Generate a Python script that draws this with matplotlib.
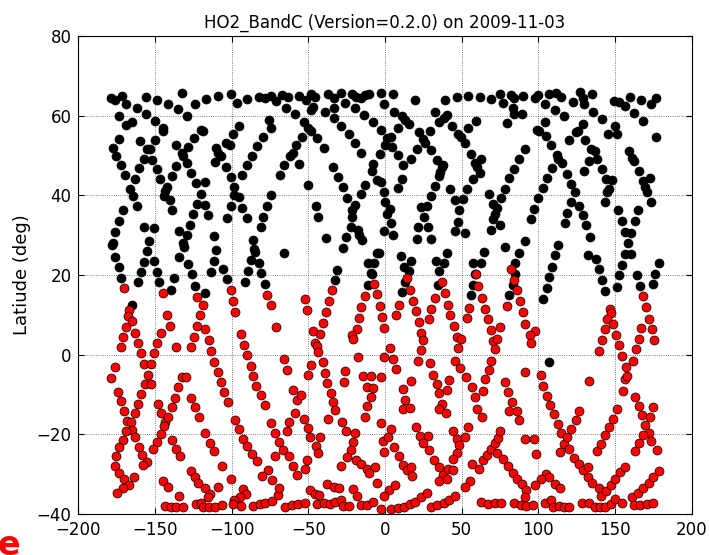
import matplotlib
matplotlib.use("Agg")
import matplotlib.pyplot as plt
import numpy as np

TITLE = "HO2_BandC (Version=0.2.0) on 2009-11-03"

# tangent point positions (lon, lat) -- northern part, drawn black
black_north_west = [
    (-179.0, 64.5), (-176.0, 63.9), (-171.6, 65.0), (-168.6, 62.9), (-161.6, 62.0), (-156.0, 64.7),
    (-148.6, 63.9), (-141.6, 62.9), (-135.1, 61.6), (-132.5, 65.6), (-129.4, 60.0), (-123.8, 62.9),
    (-116.6, 64.1), (-109.0, 65.0), (-173.8, 59.9), (-156.0, 60.5), (-150.3, 58.7), (-165.1, 58.5),
    (-168.6, 57.7), (-145.1, 56.9), (-144.7, 56.2), (-119.9, 56.5), (-118.8, 56.2), (-173.8, 54.1),
    (-159.9, 53.6), (-149.9, 53.8), (-124.6, 54.3), (-136.4, 52.7), (-128.6, 52.2), (-177.7, 51.8),
    (-155.5, 51.5), (-153.3, 51.7), (-132.5, 50.5), (-131.6, 49.8), (-175.5, 49.9), (-157.3, 49.2),
    (-152.0, 48.9), (-129.0, 48.1), (-172.5, 47.5), (-160.3, 46.8), (-149.0, 46.6), (-136.0, 47.3),
    (-110.3, 51.8), (-109.0, 50.7), (-106.8, 49.8), (-110.7, 48.3), (-103.8, 53.0), (-103.8, 47.0),
    (-169.4, 45.0), (-163.3, 44.0), (-139.0, 44.8), (-126.4, 45.6), (-123.3, 43.1), (-117.3, 43.4),
    (-146.8, 44.1), (-166.4, 41.6), (-142.0, 42.1), (-143.3, 41.0), (-120.3, 40.4), (-164.2, 39.9),
    (-144.2, 39.8), (-140.3, 38.8), (-122.5, 37.9), (-117.7, 37.6), (-162.0, 37.3), (-138.6, 36.3),
    (-125.1, 35.3), (-115.5, 35.0), (-102.9, 34.4), (-171.2, 36.4),
    (-100.7, 65.4), (-96.7, 63.2), (-89.8, 64.1), (-82.4, 64.7), (-78.1, 64.3), (-74.6, 64.9),
    (-71.1, 63.7), (-67.2, 65.1), (-63.3, 64.7), (-64.6, 62.0), (-56.3, 65.0), (-51.5, 63.9),
    (-48.5, 65.4), (-45.4, 64.7), (-46.7, 62.2), (-48.1, 61.5), (-37.2, 65.4), (-33.3, 64.3),
    (-28.9, 65.7), (-26.3, 63.2), (-21.5, 65.5), (-18.9, 64.7), (-15.9, 64.5), (-13.3, 65.1),
    (-10.2, 65.4), (-58.9, 60.4), (-52.8, 58.5), (-39.4, 61.0), (-33.3, 62.0), (-33.3, 59.3),
    (-19.4, 62.0), (-13.7, 60.2), (-8.1, 58.5), (-75.4, 59.0), (-95.0, 57.3), (-74.6, 56.8),
    (-50.2, 56.8), (-48.5, 56.2), (-99.4, 55.3), (-28.5, 57.3), (-23.7, 55.3), (-79.4, 54.7),
    (-54.1, 54.7), (-44.1, 54.3), (-101.1, 52.5), (-83.3, 52.3), (-39.8, 51.8), (-19.4, 53.2),
    (-15.4, 50.7), (-58.0, 52.5), (-86.7, 49.8), (-60.2, 50.5), (-62.0, 49.8), (-89.8, 47.5),
    (-65.9, 47.5), (-55.9, 47.8), (-33.7, 47.0), (-7.6, 47.8), (-8.5, 46.0), (-93.3, 45.0),
    (-68.5, 45.1), (-30.7, 44.6), (-5.0, 43.8), (-100.7, 44.5), (-98.5, 42.0), (-50.2, 42.6),
    (-27.6, 42.1), (-13.3, 42.6), (-98.5, 40.0), (-95.4, 39.6), (-74.6, 40.0), (-15.4, 40.3),
    (-24.6, 39.3), (-100.7, 37.3), (-93.3, 36.8), (-76.7, 37.3), (-45.0, 37.3), (-19.8, 37.6),
    (-21.5, 36.3), (-43.7, 34.6), (-21.5, 34.6), (-90.2, 34.3), (-79.4, 34.6),
]

black_north_east = [
    (-2.9, 65.6), (5.0, 65.4), (19.7, 63.9), (38.9, 63.9), (46.7, 64.7), (54.1, 64.9),
    (61.9, 64.7), (69.3, 64.1), (75.0, 65.4), (76.7, 63.2), (81.9, 65.2), (84.1, 64.5),
    (89.7, 64.9), (-0.7, 62.9), (5.8, 61.0), (83.2, 62.0), (84.1, 60.4), (89.3, 60.5),
    (79.3, 58.2), (11.1, 60.0), (13.2, 59.0), (15.8, 58.0), (32.4, 61.0), (35.0, 58.4),
    (38.4, 59.5), (40.6, 60.2), (43.7, 57.3), (59.3, 58.7), (-2.9, 56.5), (8.4, 56.8),
    (21.9, 55.9), (29.3, 56.2), (47.6, 55.3), (49.3, 54.7), (52.4, 53.0), (54.1, 56.8),
    (3.7, 54.7), (1.1, 54.5), (0.2, 52.5), (4.5, 52.2), (25.0, 54.0), (26.3, 53.0),
    (21.1, 51.7), (29.7, 51.3), (91.1, 51.7), (-3.3, 50.3), (8.4, 50.1), (17.1, 49.2),
    (33.7, 48.8), (38.0, 47.6), (37.1, 47.0), (35.8, 45.9), (35.0, 44.8), (55.8, 50.3),
    (62.8, 49.2), (58.4, 48.0), (60.2, 47.0), (61.9, 45.5), (87.6, 49.2), (11.5, 47.5),
    (84.1, 46.6), (-2.9, 43.4), (11.1, 44.2), (57.1, 44.1), (81.1, 44.3), (8.4, 41.7),
    (32.8, 42.3), (42.4, 41.5), (53.7, 41.6), (78.4, 41.6), (-0.7, 40.8), (30.2, 39.8),
    (68.0, 40.3), (75.8, 39.3), (-0.3, 38.3), (3.2, 36.6), (1.5, 35.3), (23.7, 37.1),
    (27.6, 37.3), (25.4, 34.6), (45.4, 38.8), (51.1, 39.0), (48.4, 36.4), (70.6, 37.8),
    (73.2, 36.8), (71.9, 35.4), (70.6, 34.1),
    (97.6, 64.3), (99.8, 65.1), (104.6, 63.0), (106.8, 65.4), (111.6, 65.6), (114.6, 64.7),
    (122.9, 63.5), (127.2, 65.9), (129.0, 64.5), (135.0, 65.4), (129.8, 63.0), (135.9, 61.0),
    (141.6, 59.2), (149.4, 63.7), (152.4, 63.5), (156.8, 62.4), (159.8, 64.7), (167.2, 63.9),
    (173.3, 63.0), (176.8, 64.3), (162.4, 60.7), (168.1, 58.7), (111.1, 61.5), (116.8, 59.9),
    (104.2, 58.4), (129.4, 58.0), (99.4, 56.5), (100.7, 56.2), (149.8, 57.5), (145.5, 55.5),
    (151.1, 55.3), (125.9, 56.2), (124.6, 56.0), (119.8, 53.8), (130.7, 53.8), (176.8, 54.7),
    (105.0, 54.8), (108.1, 52.7), (134.2, 51.5), (137.2, 51.2), (159.0, 51.0), (161.1, 49.3),
    (162.4, 48.5), (112.0, 50.2), (112.9, 49.2), (132.9, 48.5), (138.5, 49.0), (115.5, 48.0),
    (109.0, 46.8), (118.5, 45.3), (129.8, 46.1), (141.6, 46.6), (165.5, 46.1), (105.9, 44.3),
    (121.6, 42.8), (144.2, 44.1), (148.1, 43.8), (168.1, 43.6), (172.9, 44.3), (102.9, 41.8),
    (124.2, 40.9), (146.3, 41.6), (145.0, 40.8), (169.8, 42.0), (170.7, 40.8), (99.8, 39.3),
    (121.1, 38.3), (126.8, 37.4), (143.3, 38.3), (173.3, 38.3), (152.0, 36.3), (165.0, 36.3),
    (97.2, 36.6), (118.9, 35.6), (129.4, 35.1), (95.5, 34.1),
]

black_mid = [
    (-173.3, 33.5), (-157.3, 32.0), (-150.7, 31.8), (-176.0, 30.8), (-153.8, 28.6), (-177.7, 28.1),
    (-178.1, 27.4), (-155.5, 25.9), (-176.0, 24.6), (-157.3, 23.3), (-150.7, 23.6), (-173.8, 21.9),
    (-159.4, 20.7), (-149.0, 20.8), (-172.0, 19.2), (-161.2, 18.1), (-147.3, 18.2), (-134.6, 30.9),
    (-129.4, 30.1), (-127.3, 32.6), (-131.6, 27.9), (-131.2, 27.1), (-134.2, 24.6), (-128.6, 22.8),
    (-126.0, 20.1), (-124.2, 17.2), (-137.7, 19.2), (-139.4, 16.2), (-117.3, 15.4), (-111.2, 29.8),
    (-109.9, 26.3), (-111.6, 23.6), (-113.3, 20.7), (-105.5, 21.6), (-102.9, 18.9), (-165.1, 12.4),
    (-81.1, 32.0), (-86.3, 28.8), (-85.4, 26.4), (-84.6, 25.8), (-87.6, 23.8), (-82.4, 23.1),
    (-89.4, 20.9), (-80.7, 20.4), (-91.1, 18.2), (-78.5, 17.7), (-65.9, 25.6), (-38.5, 29.3),
    (-25.4, 29.6), (-22.4, 32.1), (-17.6, 31.3), (-16.7, 30.1), (-15.0, 28.8), (-27.2, 26.8),
    (-5.4, 25.4), (-11.1, 22.9), (-7.2, 22.9), (-9.4, 20.4), (-8.5, 20.1), (-11.1, 17.4),
    (-31.1, 21.2), (-32.8, 18.7),
    (3.7, 33.1), (-0.7, 31.0), (5.0, 30.1), (21.5, 32.1), (28.0, 32.1), (20.6, 29.1),
    (29.7, 29.1), (47.6, 33.3), (45.4, 31.0), (51.9, 30.6), (68.9, 31.3), (75.0, 32.5),
    (91.1, 28.6), (78.0, 27.1), (87.1, 25.4), (84.5, 23.1), (64.5, 25.8), (57.6, 22.9),
    (62.4, 22.9), (58.4, 20.2), (57.6, 17.4), (56.3, 14.9), (-3.7, 25.6), (10.6, 24.8),
    (16.7, 23.6), (12.4, 22.1), (15.4, 21.1), (12.8, 18.2), (11.1, 15.6), (40.2, 25.4),
    (33.2, 23.6), (38.4, 22.9), (35.0, 20.9), (34.5, 17.4), (84.5, 20.2), (83.2, 17.4),
    (81.1, 14.9),
    (117.2, 33.0), (131.1, 32.5), (133.7, 29.6), (132.4, 24.9), (137.6, 24.1), (139.4, 21.4),
    (141.6, 18.7), (143.3, 15.9), (112.9, 27.4), (111.1, 24.9), (109.0, 22.1), (107.2, 19.4),
    (105.5, 16.6), (103.3, 13.9), (154.6, 33.5), (162.9, 33.5), (156.3, 30.8), (160.7, 30.6),
    (158.5, 27.9), (156.8, 25.3), (160.7, 25.3), (154.6, 22.6), (152.9, 19.9), (151.1, 16.9),
    (178.5, 22.9), (175.9, 20.2), (174.6, 17.6), (164.2, 19.9), (166.3, 17.2), (107.2, -1.9),
]

# southern part, drawn red
red_mid = [
    (-170.3, 16.6), (-145.1, 15.4), (-166.8, 11.2), (-167.3, 9.7), (-165.1, 8.4), (-168.6, 7.0),
    (-162.9, 5.5), (-170.7, 4.3), (-161.2, 3.0), (-172.5, 1.8), (-159.4, 0.3), (-150.7, 0.3),
    (-148.6, 2.8), (-146.4, 5.5), (-139.9, 7.2), (-142.0, 9.9), (-136.4, 1.8), (-126.4, 1.8),
    (-124.6, 4.5), (-122.9, 7.2), (-120.7, 9.9), (-122.5, 14.4), (-119.0, 12.5), (-117.3, 6.4),
    (-115.1, 3.7), (-113.3, 1.0),
    (-100.7, 16.1), (-99.4, 13.4), (-97.6, 10.7), (-76.7, 15.0), (-74.6, 12.4), (-52.0, 13.9),
    (-50.7, 11.2), (-34.6, 16.1), (-36.3, 13.4), (-38.5, 10.7), (-40.2, 8.0), (-42.4, 5.2),
    (-47.2, 5.8), (-45.4, 3.0), (-44.1, 2.2), (-43.7, 0.7), (-93.7, 5.2), (-92.0, 2.5),
    (-89.8, -0.1), (-71.1, 6.9), (-65.9, -1.0), (-7.2, 17.7), (-5.4, 15.1), (-13.3, 14.6),
    (-15.4, 11.9), (-17.2, 9.2), (-18.5, 6.4), (-21.5, 4.8), (-20.7, 3.8), (-17.6, -0.5),
    (14.1, 19.2), (16.3, 16.2), (37.1, 18.2), (32.8, 14.2), (39.3, 15.4), (59.3, 20.1),
    (60.6, 17.1), (63.2, 14.2), (82.4, 21.4), (84.1, 18.7), (85.8, 16.1), (88.0, 13.4),
    (90.2, 10.7), (91.1, 7.7), (79.3, 12.2), (-3.3, 12.2), (-2.0, 9.4), (-0.7, 6.7),
    (9.3, 12.5), (7.1, 9.9), (18.4, 13.5), (20.2, 11.0), (21.9, 8.2), (23.2, 5.5),
    (25.0, 3.7), (23.2, 1.2), (30.2, 11.5), (28.9, 8.9), (41.1, 12.5), (42.4, 9.9),
    (45.0, 7.2), (46.7, 4.5), (49.3, 3.8), (47.6, 1.6), (54.5, 11.7), (53.2, 9.2),
    (65.4, 11.5), (67.1, 8.9), (68.9, 6.2), (70.6, 3.5), (71.9, 1.3), (75.0, 6.9),
    (73.2, 4.0), (3.2, 1.7), (-0.7, -0.7), (5.4, -1.0),
    (146.8, 11.5), (147.2, 10.4), (145.0, 9.0), (149.0, 7.7), (143.3, 6.4), (150.7, 5.0),
    (141.6, 3.7), (152.9, 2.3), (139.4, 1.0), (154.6, -0.3), (163.7, 1.3), (165.5, 4.0),
    (167.2, 6.7), (168.1, 14.6), (170.3, 12.0), (172.0, 9.0), (174.3, 6.4), (175.5, 3.7),
    (97.6, 5.8), (94.6, 4.8), (95.5, 2.8), (162.0, -1.5),
]

red_south = [
    (-176.4, -3.2), (-178.6, -6.0), (-157.3, -2.4), (-152.9, -2.4), (-154.6, -5.1), (-156.8, -7.4),
    (-152.9, -7.4), (-174.2, -9.3), (-159.0, -9.9), (-172.5, -11.6), (-161.2, -12.3), (-169.9, -14.1),
    (-162.9, -14.6), (-168.1, -16.6), (-165.5, -16.9), (-165.1, -19.0), (-168.6, -19.1), (-170.7, -21.5),
    (-162.9, -20.8), (-173.3, -23.3), (-160.7, -23.3), (-175.5, -25.5), (-158.6, -25.2), (-176.4, -28.0),
    (-155.5, -26.9), (-157.7, -27.7), (-173.8, -29.8), (-169.9, -31.3), (-163.8, -30.8), (-166.8, -32.8),
    (-170.7, -33.5), (-174.7, -34.7), (-148.1, -12.3), (-146.4, -14.8), (-143.8, -16.9), (-144.2, -18.0),
    (-146.0, -20.0), (-149.0, -21.9), (-151.6, -23.8), (-141.6, -15.6), (-139.0, -13.1), (-136.8, -11.0),
    (-135.1, -8.1), (-132.5, -5.7), (-129.9, -5.7), (-126.4, -10.8), (-123.8, -13.1), (-121.6, -15.6),
    (-138.6, -21.5), (-136.4, -23.6), (-133.8, -25.6), (-117.3, -19.6), (-114.2, -22.1), (-111.6, -24.1),
    (-106.4, -28.0), (-126.4, -29.2), (-124.2, -30.8), (-122.0, -32.2), (-117.3, -33.6), (-114.2, -34.9),
    (-115.5, -35.9), (-109.0, -33.3), (-145.1, -31.8), (-141.2, -33.3), (-134.6, -35.5), (-143.8, -38.0),
    (-139.4, -38.2), (-136.0, -38.4), (-131.6, -38.2), (-123.3, -37.5), (-119.9, -37.2), (-118.6, -38.2),
    (-115.1, -38.2), (-110.7, -38.2), (-106.4, -37.7), (-111.2, -1.9), (-109.0, -4.3), (-106.8, -6.8),
    (-105.1, -9.4), (-102.5, -11.9),
    (-87.6, -2.9), (-85.9, -5.4), (-84.1, -7.9), (-81.1, -10.2), (-78.5, -12.6), (-98.1, -16.4),
    (-95.0, -18.8), (-92.8, -21.1), (-89.8, -23.0), (-86.7, -25.0), (-83.7, -26.8), (-100.2, -31.3),
    (-92.8, -33.8), (-90.7, -35.0), (-94.6, -35.7), (-98.5, -36.5), (-99.4, -37.5), (-94.1, -38.0),
    (-85.9, -38.0), (-81.5, -37.5), (-78.1, -37.2), (-73.7, -36.7), (-69.8, -35.2), (-68.9, -33.5),
    (-65.0, -38.2), (-60.7, -37.9), (-56.7, -37.5), (-52.4, -37.2), (-48.9, -34.0), (-45.9, -35.0),
    (-43.3, -35.2), (-74.1, -17.3), (-71.5, -19.6), (-68.9, -22.0), (-66.3, -24.0), (-71.5, -25.6),
    (-76.3, -29.0), (-80.2, -30.5), (-73.7, -31.5), (-62.8, -25.6), (-60.2, -28.0), (-57.6, -30.2),
    (-52.0, -28.7), (-50.7, -26.5), (-50.2, -18.5), (-48.9, -20.6), (-45.0, -23.0), (-43.7, -24.8),
    (-42.4, -20.8), (-58.9, -14.8), (-52.8, -16.1), (-62.4, -17.0), (-63.7, -19.1), (-63.7, -3.9),
    (-60.2, -8.9), (-57.6, -11.4), (-55.0, -10.1), (-50.2, -5.1), (-48.5, -2.6), (-40.7, -2.0),
    (-39.4, -4.7), (-37.6, -7.2), (-35.4, -9.6), (-33.7, -11.8), (-32.4, -13.9), (-37.2, -16.3),
    (-28.0, -16.9), (-25.4, -19.1), (-25.9, -4.1), (-26.7, -6.9), (-14.1, -5.4), (-9.4, -5.4),
    (-12.0, -8.1), (-8.0, -8.4), (-8.9, -10.6), (-12.0, -12.9), (-13.3, -15.6), (-19.4, -19.8),
    (-20.7, -22.0), (-22.4, -24.0), (-25.0, -25.8), (-28.9, -28.0), (-18.9, -26.5), (-15.9, -27.5),
    (-11.5, -28.8), (-6.7, -28.3), (-10.2, -29.8), (-37.6, -32.5), (-33.3, -33.2), (-29.8, -33.5),
    (-20.7, -33.7), (-18.1, -35.4), (-44.1, -37.5), (-39.8, -37.4), (-35.9, -37.5), (-32.4, -37.0),
    (-28.5, -36.5), (-27.6, -38.0), (-23.3, -38.0), (-15.9, -37.7), (-11.5, -37.7), (-8.1, -37.0),
    (-5.0, -32.3),
    (-2.9, -5.6), (7.1, -3.7), (11.5, -8.7), (13.2, -11.3), (11.5, -13.8), (16.3, -13.5),
    (17.1, -6.7), (21.5, -1.7), (29.3, -2.2), (31.5, -5.1), (33.7, -7.4), (35.4, -9.7),
    (37.1, -12.3), (35.0, -13.8), (39.7, -14.6), (41.5, -6.4), (40.2, -8.9), (45.4, -1.7),
    (48.9, -3.4), (52.8, -5.7), (56.7, -8.2), (58.9, -10.6), (59.7, -13.8), (63.2, -15.6),
    (65.0, -6.2), (69.3, -1.7), (67.6, -3.9), (64.1, -9.1), (78.0, -6.9), (80.2, -9.4),
    (82.8, -11.8), (80.6, -14.3), (85.8, -14.3), (87.6, -16.4), (91.1, -4.4), (-2.9, -17.3),
    (-1.1, -21.8), (-0.7, -24.5), (1.9, -20.8), (4.1, -18.6), (5.8, -23.1), (8.9, -25.6),
    (11.9, -27.7), (14.1, -29.0), (17.1, -28.2), (17.6, -30.5), (2.8, -34.0), (-0.7, -35.5),
    (6.7, -32.8), (-2.9, -38.9), (4.1, -38.9), (8.4, -38.5), (12.4, -38.2), (16.3, -37.5),
    (19.3, -37.0), (23.7, -35.7), (27.6, -34.7), (29.7, -38.2), (34.1, -37.9), (38.4, -37.2),
    (41.9, -36.5), (45.4, -35.5), (20.2, -18.1), (22.8, -20.5), (28.0, -20.5), (24.5, -22.3),
    (28.9, -24.0), (31.9, -26.5), (35.0, -28.2), (37.6, -30.3), (41.1, -28.7), (35.4, -31.7),
    (40.6, -31.2), (44.5, -19.1), (47.1, -21.3), (48.4, -22.6), (47.1, -24.8), (44.5, -26.3),
    (44.1, -29.0), (54.1, -18.3), (51.9, -20.8), (56.7, -27.5), (55.4, -31.8), (52.4, -33.3),
    (61.5, -28.7), (64.1, -26.5), (66.7, -25.3), (69.3, -23.8), (71.5, -22.1), (73.7, -21.0),
    (75.0, -19.1), (73.2, -24.8), (77.1, -26.3), (80.2, -28.0), (83.2, -29.7), (86.3, -31.2),
    (89.3, -32.5), (91.9, -34.0), (91.1, -35.7), (91.1, -21.1), (62.8, -37.0), (67.1, -37.5),
    (71.5, -37.4), (75.8, -37.4), (84.1, -37.2), (88.4, -37.7), (91.9, -38.0),
    (101.6, -5.2), (103.3, -7.9), (105.9, -10.4), (107.6, -12.6), (110.3, -14.9), (112.9, -17.4),
    (114.6, -19.6), (116.8, -22.5), (114.2, -24.6), (120.3, -23.8), (119.0, -20.8), (121.6, -18.6),
    (124.6, -16.4), (126.8, -14.1), (123.3, -26.1), (126.3, -27.5), (129.0, -29.0), (132.4, -28.2),
    (132.4, -30.8), (135.0, -32.3), (139.4, -33.5), (140.7, -35.4), (144.2, -34.2), (147.2, -32.8),
    (150.3, -31.3), (153.3, -29.5), (156.8, -28.2), (138.1, -24.1), (140.7, -22.5), (143.7, -20.1),
    (146.3, -18.1), (148.5, -16.1), (151.1, -13.6), (155.5, -9.1), (156.8, -6.2), (158.1, -5.4),
    (157.2, -3.1), (162.9, -10.6), (165.5, -12.8), (167.6, -15.3), (169.8, -17.8), (172.0, -19.8),
    (173.7, -21.8), (177.7, -24.0), (175.0, -13.3), (172.9, -15.8), (168.5, -20.3), (165.5, -22.1),
    (163.3, -24.1), (133.3, -6.7), (97.2, -21.3), (98.5, -25.1), (105.0, -30.0), (107.2, -30.7),
    (110.7, -32.5), (114.2, -33.5), (102.0, -31.3), (97.6, -32.8), (104.6, -37.2), (108.5, -36.5),
    (109.8, -38.2), (113.3, -38.0), (116.8, -38.2), (120.3, -38.4), (128.5, -37.4), (132.9, -37.2),
    (136.8, -38.2), (140.3, -38.2), (143.7, -38.2), (147.2, -37.5), (150.3, -36.4), (154.6, -37.2),
    (161.1, -35.7), (165.0, -34.7), (168.5, -33.5), (172.0, -32.2), (175.0, -30.8), (178.5, -29.2),
    (162.4, -37.9), (166.3, -37.9), (170.7, -37.5), (174.6, -37.2), (96.3, -37.7),
]

black = np.array(black_north_west + black_north_east + black_mid)
red = np.array(red_mid + red_south)

fig = plt.figure(figsize=(7.09, 5.55), dpi=100)
ax = fig.add_axes([0.1105, 0.0742, 0.865, 0.861])

ax.scatter(black[:, 0], black[:, 1], s=42, c='k', edgecolors='k', linewidths=0.5, zorder=3)
ax.scatter(red[:, 0], red[:, 1], s=42, c='r', edgecolors='k', linewidths=0.5, zorder=3)

ax.set_xlim(-200, 200)
ax.set_ylim(-40, 80)
ax.set_xticks(np.arange(-200, 201, 50))
ax.set_yticks(np.arange(-40, 81, 20))
ax.tick_params(direction='in', top=True, right=True, labelsize=12, length=4, pad=5)
ax.grid(True, color='0.35', linestyle=':', linewidth=0.6)
ax.set_axisbelow(True)
ax.set_ylabel("Latiude (deg)", fontsize=13)
ax.set_title(TITLE, fontsize=12, pad=6)

fig.text(-0.004, -0.012, "e", color='red', fontsize=24, fontweight='bold', ha='left', va='bottom')

fig.savefig("out.png", dpi=100)
